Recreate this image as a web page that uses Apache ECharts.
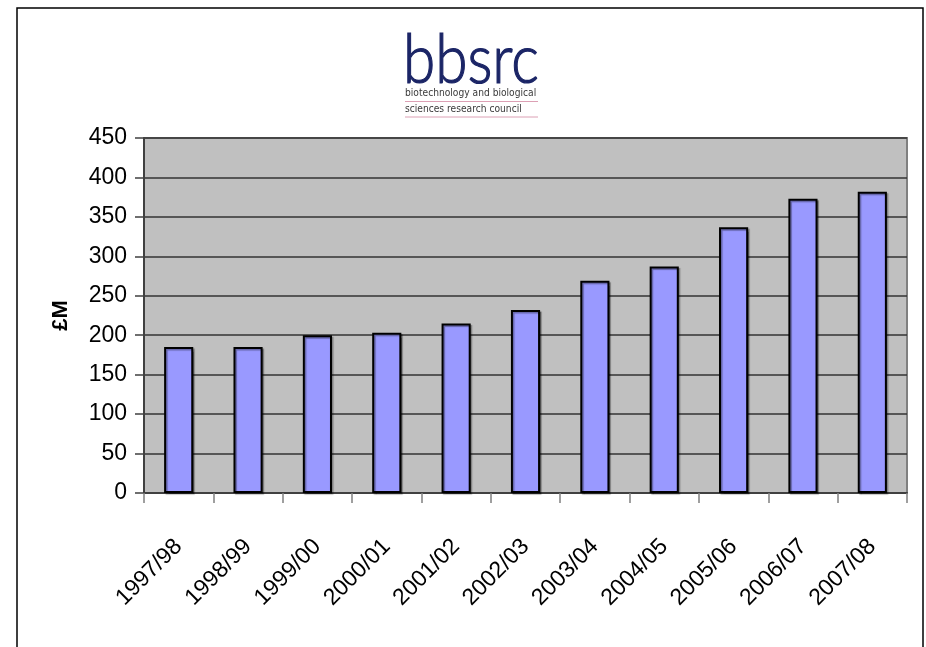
<!DOCTYPE html>
<html>
<head>
<meta charset="utf-8">
<script src="https://cdn.jsdelivr.net/npm/echarts@6/dist/echarts.min.js"></script>
<style>
  html, body { margin: 0; padding: 0; background: #ffffff; }
  #chart { width: 926px; height: 647px; }
</style>
</head>
<body>
<div id="chart"></div>
<script>
// funding per year, £ million
const years = ['1997/98', '1998/99', '1999/00', '2000/01', '2001/02', '2002/03',
  '2003/04', '2004/05', '2005/06', '2006/07', '2007/08'];
const funding = [185, 185, 200, 203, 215, 232, 269, 287, 337, 373, 382];
const yTicks = [0, 50, 100, 150, 200, 250, 300, 350, 400, 450];

const chart = echarts.init(document.getElementById('chart'));

let option = {
  animation: false,
  backgroundColor: '#ffffff',
  grid: {
    left: 144,
    right: 19,
    top: 138,
    bottom: 154,
    show: true,
    backgroundColor: '#c0c0c0',
    borderColor: '#808080',
    borderWidth: 2
  },
  graphic: [
    // outer frame
    {
      type: 'rect',
      shape: {x: 17, y: 8, width: 906, height: 700},
      style: {fill: 'none', stroke: '#000000', lineWidth: 1.5},
      silent: true
    },
    {
      type: 'text',
      x: 403,
      y: 27,
      scaleX: 0.86,
      style: {
        text: 'bbsrc',
        font: '300 68px Lato, "Liberation Sans", sans-serif',
        fill: '#1b2566',
        stroke: '#1b2566',
        lineWidth: 1.2
      }
    },
    {
      type: 'text',
      x: 405,
      y: 88,
      scaleX: 0.87,
      style: {
        text: 'biotechnology and biological',
        font: '10.5px "DejaVu Sans", sans-serif',
        fill: '#3a3a3a'
      }
    },
    {
      type: 'line',
      shape: {x1: 405, y1: 101.5, x2: 538, y2: 101.5},
      style: {stroke: '#dca0b4', lineWidth: 1}
    },
    {
      type: 'text',
      x: 405,
      y: 104,
      scaleX: 0.87,
      style: {
        text: 'sciences research council',
        font: '10.5px "DejaVu Sans", sans-serif',
        fill: '#3a3a3a'
      }
    },
    {
      type: 'line',
      shape: {x1: 405, y1: 117, x2: 538, y2: 117},
      style: {stroke: '#dca0b4', lineWidth: 1}
    }
  ],
  xAxis: {
    type: 'category',
    data: years,
    axisLine: {lineStyle: {color: '#404040', width: 2}},
    axisTick: {
      show: true,
      length: 10,
      alignWithLabel: false,
      lineStyle: {color: '#808080', width: 1.5}
    },
    axisLabel: {
      rotate: 45,
      margin: 50,
      color: '#000000',
      fontSize: 23,
      fontFamily: '"Liberation Sans", Arial, sans-serif'
    }
  },
  yAxis: {
    type: 'value',
    min: 0,
    max: 450,
    interval: 50,
    name: '£M',
    nameLocation: 'middle',
    nameGap: 72,
    nameTextStyle: {
      color: '#000000',
      fontSize: 22,
      fontWeight: 'bold',
      fontFamily: '"Liberation Sans", Arial, sans-serif'
    },
    axisLine: {show: true, lineStyle: {color: '#404040', width: 2}},
    axisTick: {show: true, length: 9, lineStyle: {color: '#404040', width: 1.5}},
    splitLine: {lineStyle: {color: '#333333', width: 1.5}},
    axisLabel: {
      margin: 17,
      color: '#000000',
      fontSize: 23,
      fontFamily: '"Liberation Sans", Arial, sans-serif',
      formatter: function (value) {
        return yTicks.indexOf(value) >= 0 ? String(value) : '';
      }
    }
  },
  series: [
    {
      type: 'bar',
      data: funding,
      barWidth: '42%',
      itemStyle: {
        color: '#9999ff',
        borderColor: '#000000',
        borderWidth: 2,
        shadowColor: 'rgba(0,0,0,0.35)',
        shadowOffsetX: 1.5,
        shadowOffsetY: 1.5,
        shadowBlur: 1
      }
    }
  ]
}

chart.setOption(option);
</script>
</body>
</html>
